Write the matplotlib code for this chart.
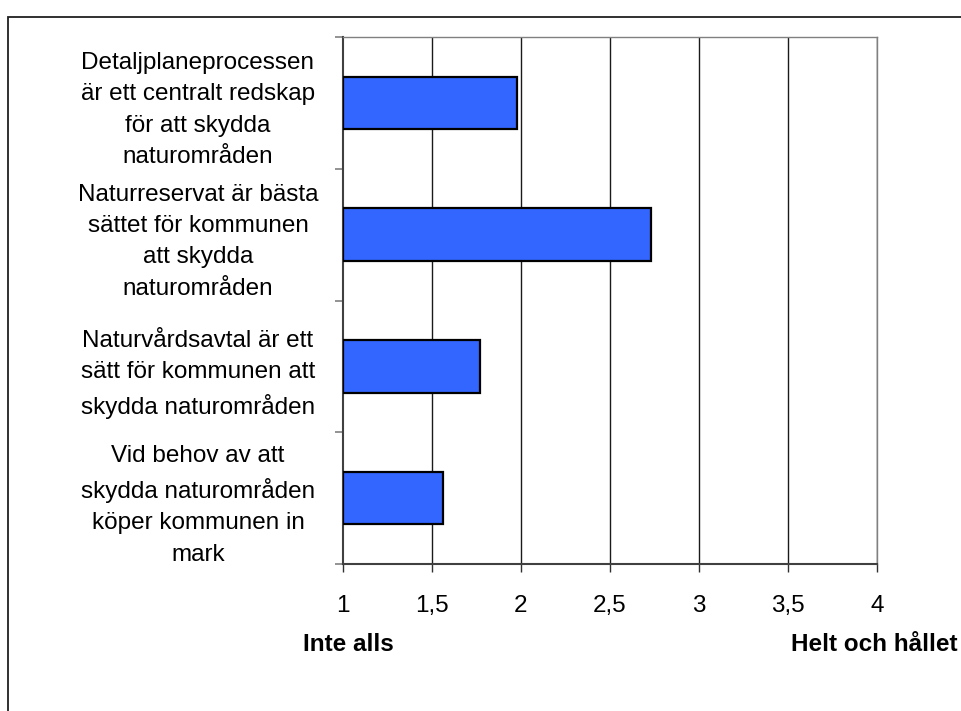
import matplotlib
matplotlib.use('Agg')
import matplotlib.pyplot as plt
from matplotlib.patches import Rectangle
from matplotlib.transforms import blended_transform_factory

plt.rcParams['font.family'] = ['Liberation Sans', 'DejaVu Sans']

# Påståenden (uppifrån och ned) och medelvärden på skalan 1-4
statements = [
    "Detaljplaneprocessen\när ett centralt redskap\nför att skydda\nnaturområden",
    "Naturreservat är bästa\nsättet för kommunen\natt skydda\nnaturområden",
    "Naturvårdsavtal är ett\nsätt för kommunen att\nskydda naturområden",
    "Vid behov av att\nskydda naturområden\nköper kommunen in\nmark",
]
means = [1.98, 2.73, 1.77, 1.56]
x_ticks = [1, 1.5, 2, 2.5, 3, 3.5, 4]
x_tick_labels = ["1", "1,5", "2", "2,5", "3", "3,5", "4"]
scale_ends = ["Inte alls", "Helt och hållet"]

W, H = 962, 711
fig = plt.figure(figsize=(W / 100, H / 100), dpi=100)
ax = fig.add_axes([343 / W, 1 - 564 / H, (877 - 343) / W, (564 - 37) / H])

ypos = list(range(len(statements)))
ax.barh(ypos, [m - 1 for m in means], left=1, height=0.4,
        color='#3366FF', edgecolor='black', linewidth=1.6, zorder=3)

ax.set_xlim(1, 4)
ax.set_ylim(len(statements) - 0.5, -0.5)

# vertikala stödlinjer
for xv in x_ticks[1:]:
    ax.axvline(xv, color='#1a1a1a', linewidth=1.0, zorder=1)

ax.set_xticks(x_ticks)
ax.set_xticklabels(x_tick_labels, fontsize=17.5)
ax.tick_params(axis='x', direction='out', length=6, width=1, color='#303030', pad=16)

# kategorigränser som tickmarkeringar, etiketter på minor-ticks
ax.set_yticks([i - 0.5 for i in range(len(statements) + 1)])
ax.set_yticklabels([])
ax.tick_params(axis='y', which='major', direction='out', length=6, width=1.2, color='#808080')
ax.set_yticks(ypos, minor=True)
ax.set_yticklabels(statements, minor=True, fontsize=17.5, ha='center',
                   multialignment='center', linespacing=1.55)
ax.tick_params(axis='y', which='minor', length=0, pad=(343 - 198) * 0.72)

for side in ['left', 'bottom']:
    ax.spines[side].set_color('#404040')
    ax.spines[side].set_linewidth(1.5)
for side in ['top', 'right']:
    ax.spines[side].set_color('#808080')
    ax.spines[side].set_linewidth(1.0)

trans = blended_transform_factory(ax.transData, ax.transAxes)
ax.text(1.03, -0.152, scale_ends[0], transform=trans, ha='center', va='center',
        fontsize=17.5, fontweight='bold')
ax.text(3.985, -0.152, scale_ends[1], transform=trans, ha='center', va='center',
        fontsize=17.5, fontweight='bold')

# ram runt diagrammet
fig.patches.append(Rectangle((8 / W, -0.1), 1.2, 1 - 17 / H + 0.1,
                             transform=fig.transFigure, fill=False,
                             edgecolor='#202020', linewidth=1.3))

fig.savefig('out.png', dpi=100)
plt.close(fig)
